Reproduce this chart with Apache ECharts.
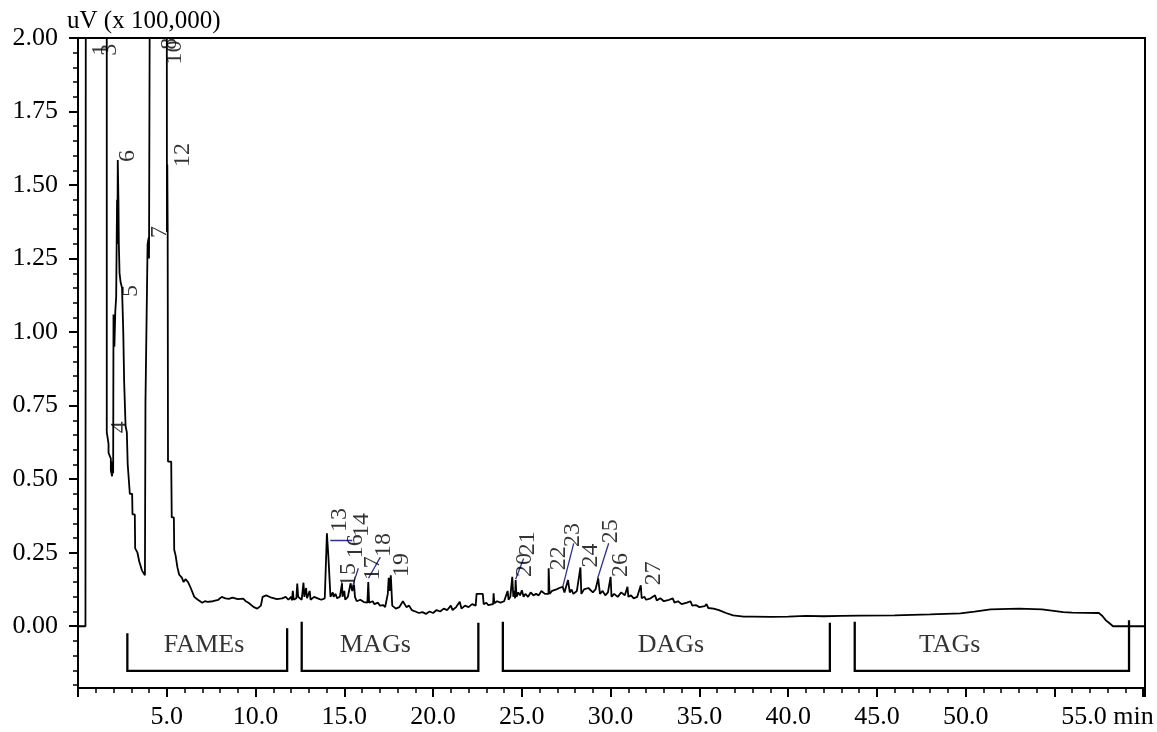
<!DOCTYPE html>
<html>
<head>
<meta charset="utf-8">
<script src="https://cdn.jsdelivr.net/npm/echarts@6/dist/echarts.min.js"></script>
<style>
  html, body { margin: 0; padding: 0; background: #fff; }
  #chart { width: 1157px; height: 732px; }
</style>
</head>
<body>
<div id="chart"></div>
<script>
// trace: [retention time (min), signal (uV x 100,000)]
// values above 2.0 are off scale and get clipped at the top of the plot
var solventFameTrace = [
  [0, 0], [0.42, 0], [0.44, 2.3], [1.62, 2.3], [1.62, 0.66], [1.72, 0.62], [1.72, 0.59],
  [1.85, 0.57], [1.85, 0.53], [1.92, 0.51], [1.95, 0.56], [1.98, 0.52], [2.0, 1.06],
  [2.05, 0.95], [2.1, 1.07], [2.15, 1.12], [2.2, 1.45], [2.22, 1.3], [2.24, 1.585],
  [2.28, 1.44], [2.3, 1.3], [2.34, 1.2], [2.4, 1.17], [2.48, 1.15], [2.55, 1.0],
  [2.6, 0.83], [2.67, 0.83], [2.68, 0.68], [2.75, 0.66], [2.8, 0.55], [2.9, 0.55],
  [2.92, 0.45], [3.05, 0.45], [3.07, 0.38], [3.2, 0.38], [3.22, 0.265], [3.35, 0.25],
  [3.45, 0.22], [3.6, 0.19], [3.77, 0.173], [3.8, 0.76], [3.9, 0.76], [3.92, 1.3],
  [3.98, 1.32], [4.0, 1.25], [4.05, 2.3], [5.0, 2.3], [5.01, 1.34], [5.03, 1.57],
  [5.05, 1.36], [5.07, 0.56], [5.25, 0.56], [5.28, 0.37], [5.4, 0.37], [5.42, 0.26],
  [5.5, 0.24], [5.6, 0.2], [5.7, 0.175], [5.85, 0.165], [5.95, 0.15], [6.05, 0.16],
  [6.2, 0.15], [6.35, 0.13], [6.55, 0.1], [6.75, 0.09], [7.0, 0.08], [7.15, 0.085],
  [7.3, 0.083], [7.6, 0.085], [7.9, 0.09], [8.1, 0.1], [8.3, 0.095], [8.5, 0.093],
  [8.7, 0.097], [9.0, 0.092], [9.3, 0.094], [9.45, 0.085], [9.6, 0.08], [9.9, 0.065],
  [10.1, 0.06], [10.3, 0.07], [10.4, 0.1], [10.6, 0.105], [10.9, 0.097], [11.2, 0.092],
  [11.5, 0.095], [11.7, 0.1], [11.85, 0.09]
];
var magTrace = [
  [12.0, 0.1], [12.05, 0.088], [12.1, 0.12], [12.15, 0.09], [12.3, 0.095], [12.35, 0.145],
  [12.4, 0.1], [12.5, 0.105], [12.6, 0.09], [12.7, 0.148], [12.75, 0.1], [12.85, 0.13],
  [12.9, 0.095], [13.05, 0.12], [13.1, 0.09], [13.3, 0.1], [13.5, 0.095], [13.7, 0.09],
  [13.9, 0.095], [14.0, 0.1], [14.02, 0.316], [14.08, 0.316], [14.1, 0.24], [14.2, 0.24],
  [14.22, 0.1], [14.35, 0.115], [14.4, 0.1], [14.5, 0.11], [14.6, 0.095], [14.75, 0.1],
  [14.87, 0.146], [14.9, 0.1], [15.0, 0.12], [15.05, 0.09], [15.2, 0.1], [15.3, 0.13],
  [15.35, 0.146], [15.45, 0.12], [15.55, 0.14], [15.6, 0.1], [15.7, 0.085], [15.9, 0.09],
  [16.1, 0.082], [16.3, 0.08], [16.35, 0.15], [16.4, 0.08], [16.6, 0.085], [16.7, 0.075],
  [16.9, 0.08], [17.0, 0.07], [17.2, 0.072], [17.3, 0.065], [17.45, 0.11], [17.5, 0.165],
  [17.55, 0.12], [17.62, 0.173], [17.7, 0.07], [17.9, 0.06], [18.1, 0.065], [18.2, 0.06],
  [18.3, 0.085], [18.4, 0.09], [18.5, 0.065], [18.65, 0.07], [18.8, 0.055], [19.0, 0.05],
  [19.2, 0.045], [19.4, 0.048], [19.6, 0.042], [19.8, 0.05], [20.0, 0.045], [20.2, 0.055],
  [20.4, 0.05], [20.6, 0.06], [20.8, 0.055], [21.0, 0.07], [21.1, 0.055], [21.3, 0.065],
  [21.4, 0.06], [21.5, 0.083], [21.6, 0.06], [21.8, 0.07], [22.0, 0.065], [22.2, 0.075],
  [22.4, 0.07], [22.45, 0.11], [22.8, 0.11], [22.85, 0.075], [23.0, 0.08], [23.1, 0.072],
  [23.38, 0.075], [23.41, 0.112], [23.45, 0.078], [23.6, 0.085], [23.8, 0.08]
];
var dagTrace = [
  [24.0, 0.085], [24.1, 0.09], [24.2, 0.12], [24.25, 0.09], [24.35, 0.1], [24.4, 0.095],
  [24.46, 0.168], [24.52, 0.1], [24.58, 0.12], [24.62, 0.095], [24.65, 0.157], [24.7, 0.1],
  [24.8, 0.115], [24.9, 0.105], [25.0, 0.122], [25.1, 0.1], [25.2, 0.11], [25.35, 0.1],
  [25.5, 0.115], [25.65, 0.105], [25.8, 0.11], [25.95, 0.105], [26.1, 0.12], [26.3, 0.11],
  [26.5, 0.11], [26.51, 0.197], [26.56, 0.11], [26.7, 0.12], [26.8, 0.115], [26.95, 0.125],
  [27.1, 0.13], [27.2, 0.125], [27.3, 0.134], [27.4, 0.115], [27.5, 0.12], [27.6, 0.157],
  [27.7, 0.115], [27.8, 0.125], [27.9, 0.11], [28.1, 0.12], [28.3, 0.2], [28.35, 0.11],
  [28.5, 0.125], [28.6, 0.12], [28.75, 0.13], [28.85, 0.134], [29.0, 0.115], [29.15, 0.125],
  [29.3, 0.163], [29.4, 0.11], [29.55, 0.12], [29.7, 0.105], [29.85, 0.115], [30.0, 0.168],
  [30.05, 0.1], [30.2, 0.11], [30.4, 0.1], [30.6, 0.115], [30.8, 0.105], [30.95, 0.134],
  [31.0, 0.1], [31.15, 0.105], [31.3, 0.095], [31.5, 0.1], [31.7, 0.139], [31.75, 0.095],
  [31.9, 0.1], [32.0, 0.09], [32.25, 0.095], [32.5, 0.105], [32.6, 0.088], [32.8, 0.095],
  [33.0, 0.085], [33.3, 0.09], [33.5, 0.095], [33.6, 0.08], [33.8, 0.085], [34.0, 0.075],
  [34.3, 0.08], [34.5, 0.085], [34.6, 0.07], [34.8, 0.072], [35.0, 0.065], [35.3, 0.068],
  [35.4, 0.075], [35.5, 0.062], [35.8, 0.06], [36.1, 0.055], [36.5, 0.045], [36.9, 0.037],
  [37.5, 0.033], [38.0, 0.033]
];
var tagTrace = [
  [39.0, 0.032], [40.0, 0.033], [41.0, 0.035], [42.0, 0.034], [43.0, 0.035], [44.0, 0.036],
  [46.0, 0.037], [48.0, 0.04], [49.7, 0.044], [50.5, 0.05], [51.4, 0.057], [53.0, 0.06],
  [54.3, 0.057], [55.5, 0.048], [56.0, 0.046], [57.5, 0.045], [57.7, 0.035], [57.9, 0.02],
  [58.1, 0.01], [58.3, 0], [60.1, 0]
];

// peak numbers: where each rotated label starts (time, signal)
var peakNames = ['1', '3', '8', '10', '6', '12', '7', '5', '4',
  '13', '14', '16', '15', '17', '18', '19',
  '20', '21', '22', '23', '24', '25', '26', '27'];
var peakTimes = [1.28, 1.8, 5.15, 5.45, 2.82, 5.87, 4.62, 2.99, 2.37,
  14.72, 15.96, 15.62, 15.23, 16.58, 17.2, 18.22,
  25.16, 25.32, 27.07, 27.86, 28.88, 30.0, 30.57, 32.43];
var peakLabelY = [1.94, 1.94, 1.96, 1.91, 1.578, 1.561, 1.32, 1.119, 0.656,
  0.32, 0.303, 0.231, 0.133, 0.156, 0.235, 0.167,
  0.167, 0.241, 0.19, 0.269, 0.2, 0.282, 0.167, 0.139];

// blue leader lines from peak to its number
var leaderFrom = [[14.21, 0.293], [15.45, 0.133], [16.36, 0.163], [24.65, 0.16], [27.3, 0.133], [29.27, 0.163]];
var leaderTo = [[15.45, 0.293], [15.79, 0.197], [17.03, 0.235], [25.1, 0.23], [27.92, 0.282], [29.89, 0.282]];

// lipid class ranges (min)
var groupNames = ['FAMEs', 'MAGs', 'DAGs', 'TAGs'];
var groupStart = [2.78, 12.6, 23.93, 43.75];
var groupEnd = [11.78, 22.55, 42.35, 59.2];
var groupLabelAt = [7.1, 16.75, 33.4, 49.1];

var FONT = 'Liberation Serif';
var BLACK = '#000';

var traceData = solventFameTrace.concat(magTrace, dagTrace, tagTrace);
var peakData = peakNames.map(function (n, i) { return { name: n, value: [peakTimes[i], peakLabelY[i]] }; });
var leaderData = leaderFrom.map(function (p, i) { return { coords: [p, leaderTo[i]] }; });
var bracketData = groupNames.map(function (n, i) {
  var topL = i === 0 ? -0.024 : 0.015;
  var topR = i === 0 ? -0.007 : (i === 3 ? 0.02 : 0.012);
  return { coords: [[groupStart[i], topL], [groupStart[i], -0.152], [groupEnd[i], -0.152], [groupEnd[i], topR]] };
});
var groupData = groupNames.map(function (n, i) { return { name: n, value: [groupLabelAt[i], -0.064] }; });

var chart = echarts.init(document.getElementById('chart'));
chart.setOption({
  animation: false,
  backgroundColor: '#fff',
  title: {
    text: 'uV (x 100,000)',
    left: 62,
    top: 4,
    textStyle: { fontFamily: FONT, fontSize: 25, fontWeight: 'normal', color: BLACK }
  },
  grid: [
    { left: 78, right: 12, top: 38, bottom: 44, show: true, borderColor: BLACK, borderWidth: 2, backgroundColor: 'transparent' },
    { left: 78, right: 12, top: 38, bottom: 47 },    // minor y ticks down to -0.20
    { left: 78, right: 12, top: 38, bottom: 105.8 }  // labelled y ticks 0.00 - 2.00
  ],
  xAxis: [
    {
      gridIndex: 0, type: 'value', min: 0, max: 60.1, interval: 5,
      axisLine: { onZero: false, lineStyle: { color: BLACK, width: 2 } },
      axisTick: { length: 9, lineStyle: { color: BLACK, width: 2 } },
      minorTick: { show: true, splitNumber: 5, length: 5, lineStyle: { color: BLACK, width: 1.5 } },
      splitLine: { show: false },
      axisLabel: {
        margin: 16, fontFamily: FONT, fontSize: 26, color: BLACK,
        showMaxLabel: false,
        formatter: function (v) {
          if (v === 0 || v > 57) return '';
          if (v === 55) return '{e|55.0 min}';
          return v.toFixed(1);
        },
        rich: { e: { fontFamily: FONT, fontSize: 26, color: BLACK, padding: [0, 0, 0, 106] } }
      }
    },
    { gridIndex: 1, type: 'value', min: 0, max: 60.1, show: false },
    { gridIndex: 2, type: 'value', min: 0, max: 60.1, show: false }
  ],
  yAxis: [
    {
      gridIndex: 0, type: 'value', min: -0.21, max: 2.0,
      axisLine: { show: true, onZero: false, lineStyle: { color: BLACK, width: 2 } },
      axisTick: { show: false }, axisLabel: { show: false }, splitLine: { show: false }
    },
    {
      gridIndex: 1, type: 'value', min: -0.2, max: 2.0, interval: 0.05,
      axisLine: { show: false },
      axisTick: { show: true, length: 5, lineStyle: { color: BLACK, width: 1.5 } },
      axisLabel: { show: false }, splitLine: { show: false }
    },
    {
      gridIndex: 2, type: 'value', min: 0, max: 2.0, interval: 0.25,
      axisLine: { show: false },
      axisTick: { show: true, length: 9, lineStyle: { color: BLACK, width: 2 } },
      axisLabel: {
        margin: 20, fontFamily: FONT, fontSize: 26, color: BLACK,
        formatter: function (v) { return v.toFixed(2); }
      },
      splitLine: { show: false }
    }
  ],
  series: [
    {
      type: 'line', xAxisIndex: 0, yAxisIndex: 0, data: traceData,
      showSymbol: false, symbol: 'none', silent: true, clip: true,
      lineStyle: { color: BLACK, width: 1.8 }
    },
    {
      type: 'lines', coordinateSystem: 'cartesian2d', xAxisIndex: 0, yAxisIndex: 0,
      polyline: true, silent: true, data: bracketData,
      lineStyle: { color: BLACK, width: 2.3, opacity: 1 }
    },
    {
      type: 'lines', coordinateSystem: 'cartesian2d', xAxisIndex: 0, yAxisIndex: 0,
      silent: true, data: leaderData,
      lineStyle: { color: '#2f3192', width: 1.3, opacity: 1 }
    },
    {
      type: 'scatter', xAxisIndex: 0, yAxisIndex: 0, symbolSize: 0, silent: true,
      data: groupData,
      label: {
        show: true, position: 'inside', formatter: '{b}',
        fontFamily: FONT, fontSize: 26, color: BLACK
      }
    },
    {
      type: 'scatter', xAxisIndex: 0, yAxisIndex: 0, symbolSize: 0, silent: true,
      data: peakData,
      label: {
        show: true, position: 'inside', formatter: '{b}', rotate: 90,
        align: 'left', verticalAlign: 'middle',
        fontFamily: FONT, fontSize: 24, color: BLACK
      }
    }
  ]
});
</script>
</body>
</html>
